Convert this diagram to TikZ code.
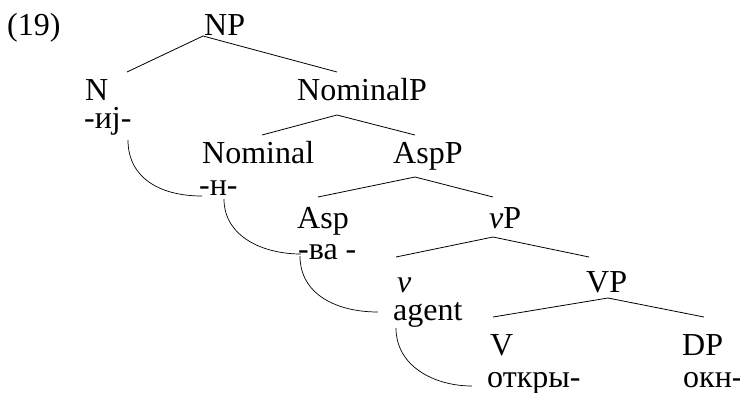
\documentclass[tikz,border=0pt]{standalone}
\usepackage{fontspec}
\setmainfont{Liberation Serif}
\begin{document}
\begin{tikzpicture}[x=1pt,y=-1pt,
  lbl/.style={anchor=base west,inner sep=0pt,font=\fontsize{32}{38}\selectfont},
  branch/.style={line width=0.8pt},
  move/.style={line width=0.7pt}]
\useasboundingbox (0,0) rectangle (740,392);
% labels
\node[lbl] (ex) at (7,35) {(19)};
\node[lbl] (NP) at (204,35) {NP};
\node[lbl] (N) at (85,100) {N};
\node[lbl] (Nm) at (84,128) {-иj-};
\node[lbl] (NomP) at (297,100) {NominalP};
\node[lbl] (Nom) at (202,163) {Nominal};
\node[lbl] (Nomm) at (199,195) {-н-};
\node[lbl] (AspP) at (393,163) {AspP};
\node[lbl] (Asp) at (297,228) {Asp};
\node[lbl] (Aspm) at (298,259) {-ва -};
\node[lbl] (vP) at (489,228) {\textit{v}P};
\node[lbl] (v) at (397,292) {\textit{v}};
\node[lbl] (ag) at (393,320) {agent};
\node[lbl] (VP) at (586,292) {VP};
\node[lbl] (V) at (490,355) {V};
\node[lbl] (Vm) at (487,387) {откры-};
\node[lbl] (DP) at (682,355) {DP};
\node[lbl] (DPm) at (683,387) {окн-};
% branch points
\coordinate (a1) at (203,36);
\coordinate (l1) at (127,72);
\coordinate (r1) at (337,72);
\coordinate (a2) at (337,115);
\coordinate (l2) at (262,135);
\coordinate (r2) at (415,135);
\coordinate (a3) at (415,177);
\coordinate (l3) at (318,197);
\coordinate (r3) at (493,197);
\coordinate (a4) at (493,237);
\coordinate (l4) at (396,257);
\coordinate (r4) at (589,257);
\coordinate (a5) at (608,298);
\coordinate (l5) at (493,317);
\coordinate (r5) at (704,317);
\draw[branch] (l1) -- (a1) -- (r1);
\draw[branch] (l2) -- (a2) -- (r2);
\draw[branch] (l3) -- (a3) -- (r3);
\draw[branch] (l4) -- (a4) -- (r4);
\draw[branch] (l5) -- (a5) -- (r5);
% movement curves
\coordinate (s1) at (128,140);
\coordinate (e1) at (202,196);
\coordinate (s2) at (224,199);
\coordinate (e2) at (301,254);
\coordinate (s3) at (300,256);
\coordinate (e3) at (378,312);
\coordinate (s4) at (396,328);
\coordinate (e4) at (472,386);
\draw[move] (s1) .. controls (128,178) and (160,196) .. (e1);
\draw[move] (s2) .. controls (224,236) and (262,254) .. (e2);
\draw[move] (s3) .. controls (300,294) and (336,312) .. (e3);
\draw[move] (s4) .. controls (396,366) and (434,386) .. (e4);
\end{tikzpicture}
\end{document}
